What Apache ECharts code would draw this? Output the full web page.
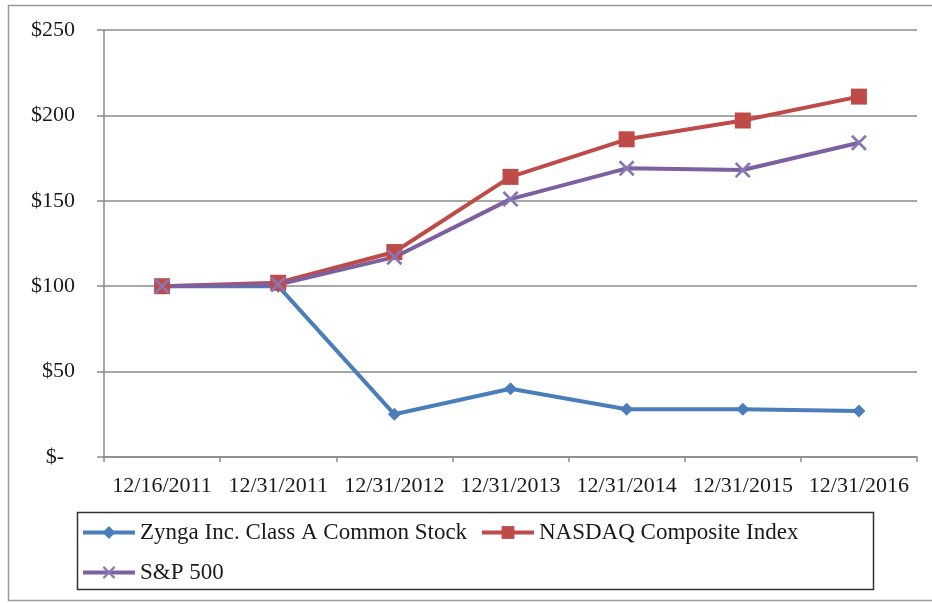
<!DOCTYPE html>
<html>
<head>
<meta charset="utf-8">
<script src="https://cdn.jsdelivr.net/npm/echarts@6/dist/echarts.min.js"></script>
<style>
  html, body { margin: 0; padding: 0; background: #fff; }
  #chart { width: 932px; height: 603px; }
</style>
</head>
<body>
<div id="chart"></div>
<script>
const dates = ['12/16/2011', '12/31/2011', '12/31/2012', '12/31/2013', '12/31/2014', '12/31/2015', '12/31/2016']
const zynga = [100, 100, 25, 40, 28, 28, 27]
const nasdaq = [100, 102, 120, 164, 186, 197, 211]
const sp500 = [100, 101, 117, 151, 169, 168, 184]
const yTicks = [0, 50, 100, 150, 200, 250]

const serif = '"Liberation Serif", "DejaVu Serif", serif'
const xMark = 'path://M0,1.2L1.2,0L5,3.8L8.8,0L10,1.2L6.2,5L10,8.8L8.8,10L5,6.2L1.2,10L0,8.8L3.8,5Z'

const names = ['Zynga Inc. Class A Common Stock', 'NASDAQ Composite Index', 'S&P 500']

const chart = echarts.init(document.getElementById('chart'))

// one legend per item so each sits where the original put it
function legendAt(name, left, top) {
  return {
    data: [name],
    left, top,
    padding: 0,
    itemWidth: 52,
    itemHeight: 16,
    itemGap: 4,
    lineStyle: { width: 4 },
    textStyle: { fontFamily: serif, fontSize: 23, color: '#1a1a1a' },
    selectedMode: false,
  }
}

chart.setOption({
  animation: false,
  backgroundColor: '#fff',
  graphic: [
    { type: 'rect', shape: { x: 8.5, y: 5.5, width: 940, height: 595 }, style: { fill: 'none', stroke: '#9a9a9a', lineWidth: 1.5 }, silent: true },
    { type: 'rect', shape: { x: 77.5, y: 512.5, width: 796, height: 77 }, style: { fill: 'none', stroke: '#333', lineWidth: 1.5 }, silent: true },
  ],
  legend: [
    legendAt(names[0], 81, 521),
    legendAt(names[1], 480, 521),
    legendAt(names[2], 81, 561),
  ],
  grid: { left: 104, right: 15, top: 30, bottom: 146 },
  xAxis: {
    type: 'category',
    data: dates,
    boundaryGap: true,
    axisLine: { lineStyle: { color: '#8a8a8a', width: 1.5 } },
    axisTick: { show: true, interval: 0, length: 5, lineStyle: { color: '#8a8a8a', width: 1.5 } },
    axisLabel: { interval: 0, fontFamily: serif, fontSize: 22, color: '#1a1a1a', margin: 18 },
  },
  yAxis: {
    type: 'value',
    min: yTicks[0],
    max: yTicks[yTicks.length - 1],
    interval: 50,
    axisLine: { show: true, lineStyle: { color: '#8a8a8a', width: 1.5 } },
    axisTick: { show: true, length: 7, lineStyle: { color: '#8a8a8a', width: 1.5 } },
    splitLine: { lineStyle: { color: '#8a8a8a', width: 1.5 } },
    axisLabel: {
      fontFamily: serif, fontSize: 22, color: '#1a1a1a', margin: 29,
      formatter: (v) => (v === 0 ? '$-  ' : '$' + v),
    },
  },
  series: [
    {
      name: names[0], type: 'line', data: zynga,
      symbol: 'diamond', symbolSize: 13,
      lineStyle: { color: '#4A7EBB', width: 4 },
      itemStyle: { color: '#4A7EBB' },
    },
    {
      name: names[1], type: 'line', data: nasdaq,
      symbol: 'rect', symbolSize: 16,
      lineStyle: { color: '#BE4B48', width: 4 },
      itemStyle: { color: '#BE4B48' },
    },
    {
      name: names[2], type: 'line', data: sp500,
      symbol: xMark, symbolSize: 16,
      lineStyle: { color: '#7D60A0', width: 4 },
      itemStyle: { color: '#8678B4' },
    },
  ],
})
</script>
</body>
</html>
